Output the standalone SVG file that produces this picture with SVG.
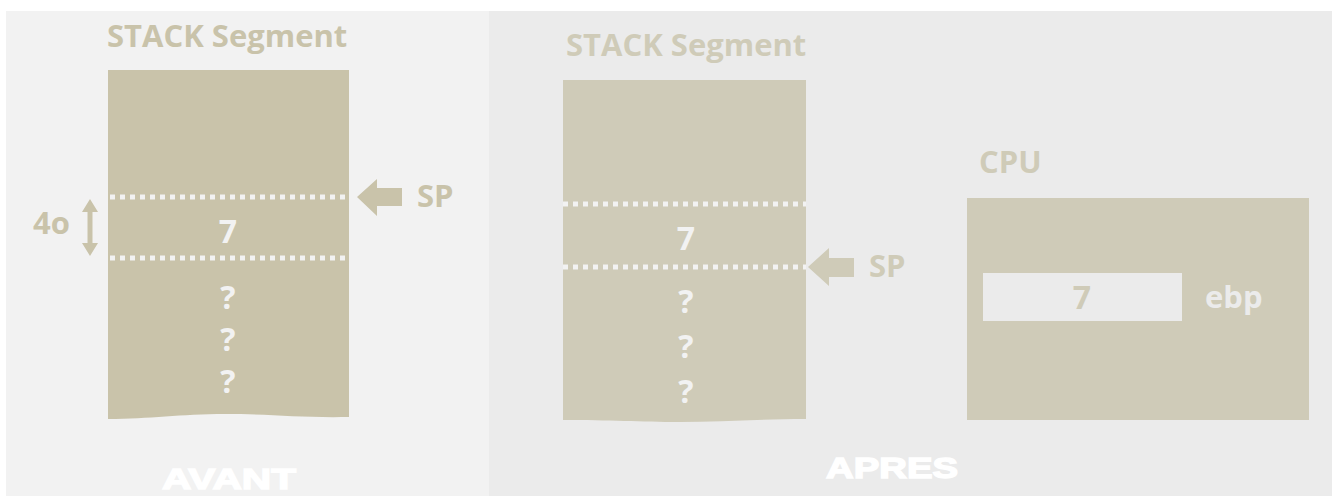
<svg xmlns="http://www.w3.org/2000/svg" width="1332" height="496" viewBox="0 0 1332 496">
  <style>
    .lbl { font-family: "Open Sans", "Liberation Sans", sans-serif; font-weight: bold; font-size: 31px; }
    .big { font-family: "Liberation Sans", Arial, sans-serif; font-weight: bold; fill: #ffffff; stroke: #ffffff; stroke-width: 1.4; }
    .tanL { fill: #c9c3aa; }
    .tanR { fill: #cfcbb8; }
    .cell { fill: #f2f2f2; font-size: 32px; text-anchor: middle; }
    .dots { stroke: #f2f2f2; stroke-width: 5; stroke-dasharray: 5 5; fill: none; }
  </style>

  <!-- page background -->
  <rect x="0" y="0" width="1332" height="496" fill="#ffffff"/>
  <rect id="panel-avant" x="6" y="11" width="483" height="485" fill="#f2f2f2"/>
  <rect id="panel-apres" x="489" y="11" width="843" height="485" fill="#ebebeb"/>

  <!-- before: stack segment -->
  <g id="stack-avant">
    <text class="lbl tanL" x="107" y="47">STACK Segment</text>
    <path class="tanL" d="M108,70 H349 V417 C300,418 270,414 225,414 C180,414 150,419 108,419 Z"/>
    <line class="dots" x1="110" y1="197" x2="349" y2="197"/>
    <line class="dots" x1="110" y1="258" x2="349" y2="258"/>
    <text class="lbl cell" x="228" y="243">7</text>
    <text class="lbl cell" x="228" y="309">?</text>
    <text class="lbl cell" x="228" y="351">?</text>
    <text class="lbl cell" x="228" y="393">?</text>
  </g>

  <g id="sp-avant">
    <path class="tanL" d="M357,197 L377,179 V188 H402 V206 H377 V216 Z"/>
    <text class="lbl tanL" x="417" y="207">SP</text>
  </g>

  <g id="size-avant">
    <text class="lbl tanL" x="33" y="234">4o</text>
    <path class="tanL" d="M90,199 L98,212 H92.5 V243 H98 L90,256 L82,243 H87.5 V212 H82 Z"/>
  </g>

  <text class="big" x="229" y="489" font-size="30" text-anchor="middle" textLength="134" lengthAdjust="spacingAndGlyphs">AVANT</text>

  <!-- after: stack segment -->
  <g id="stack-apres">
    <text class="lbl tanR" x="566" y="56">STACK Segment</text>
    <path class="tanR" d="M563,80 H806 V419 C760,419 720,422 680,422 C640,422 610,420 563,420 Z"/>
    <line class="dots" x1="563" y1="204" x2="806" y2="204"/>
    <line class="dots" x1="563" y1="267" x2="806" y2="267"/>
    <text class="lbl cell" x="686" y="250">7</text>
    <text class="lbl cell" x="686" y="313">?</text>
    <text class="lbl cell" x="686" y="358">?</text>
    <text class="lbl cell" x="686" y="403">?</text>
  </g>

  <g id="sp-apres">
    <path class="tanR" d="M808,267 L829,248 V258 H854 V277 H829 V286 Z"/>
    <text class="lbl tanR" x="869" y="277">SP</text>
  </g>

  <!-- after: CPU with ebp register -->
  <g id="cpu">
    <text class="lbl tanR" x="979" y="173">CPU</text>
    <rect class="tanR" x="967" y="198" width="342" height="222"/>
    <rect x="983" y="273" width="199" height="48" fill="#ebebeb"/>
    <text class="lbl tanR" x="1082" y="309" style="font-size:32px" text-anchor="middle">7</text>
    <text class="lbl" x="1205" y="308" fill="#ebebeb">ebp</text>
  </g>

  <text class="big" x="892" y="478" font-size="29" text-anchor="middle" textLength="132" lengthAdjust="spacingAndGlyphs">APRES</text>
</svg>
